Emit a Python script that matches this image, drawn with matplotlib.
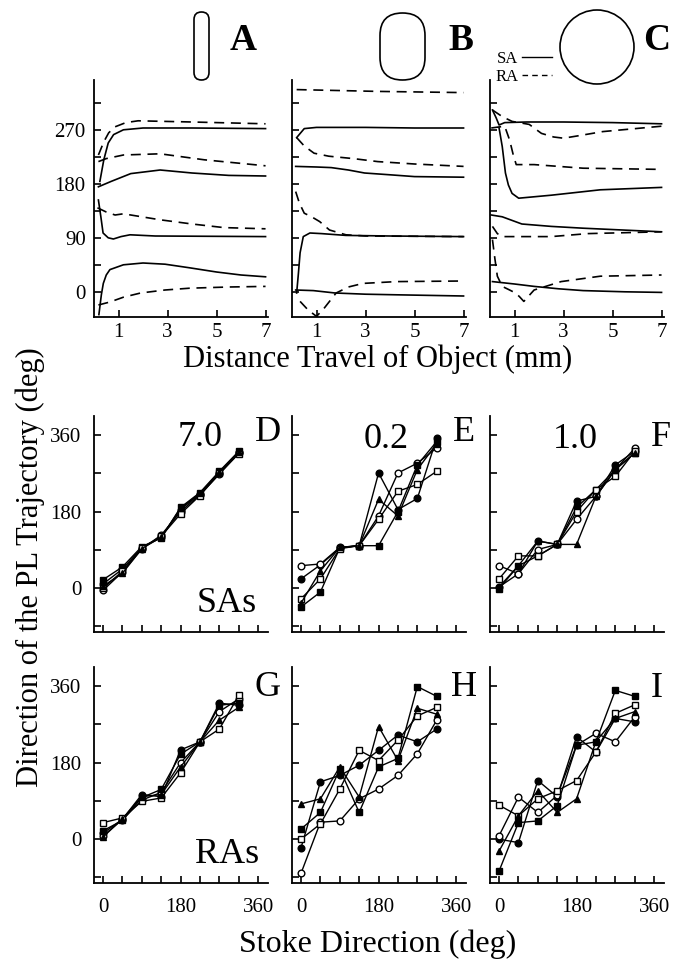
import matplotlib
matplotlib.use("Agg")
import matplotlib.pyplot as plt
from matplotlib.lines import Line2D
from matplotlib.patches import FancyBboxPatch, Circle
from matplotlib.ticker import FixedLocator

plt.rcParams['font.family'] = ['Liberation Serif', 'DejaVu Serif']

# ---- top row: PL direction vs distance travelled (x in mm, y in deg) ----
A_curves = [
    ('sa', [0.24, 0.4, 0.58, 0.8, 1.2, 2, 4, 7], [184, 220, 248, 262, 270, 273, 273, 272]),
    ('ra', [0.18, 0.4, 0.6, 0.86, 1.3, 1.8, 4, 7], [228, 250, 265, 275, 282, 285, 283, 280]),
    ('ra', [0.18, 0.5, 1.2, 2.7, 4.5, 7], [217, 222, 228, 230, 220, 210]),
    ('sa', [0.18, 0.7, 1.5, 2.7, 4, 5.5, 7], [175, 184, 197, 203, 198, 194, 193]),
    ('ra', [0.14, 0.5, 0.86, 1.2, 2.7, 4, 5.3, 7], [140, 133, 128, 130, 120, 113, 107, 105]),
    ('sa', [0.18, 0.28, 0.37, 0.58, 0.79, 1.1, 1.47, 2.5, 7], [153, 125, 98, 90, 88, 92, 95, 93, 92]),
    ('sa', [0.2, 0.3, 0.38, 0.5, 0.65, 1.2, 2.0, 2.9, 3.9, 5, 6, 7],
     [-38, -5, 14, 28, 37, 45, 48, 46, 40, 33, 28, 25]),
    ('ra', [0.18, 0.65, 1.2, 1.9, 2.9, 3.9, 5.5, 7], [-22, -17, -9, -2, 3, 6, 8, 9]),
]
B_curves = [
    ('ra', [0.19, 3.5, 7], [337, 334, 332]),
    ('sa', [0.19, 0.5, 1, 3, 5, 7], [257, 272, 274, 274, 273, 273]),
    ('ra', [0.19, 0.5, 0.9, 1.5, 2.5, 3.5, 5, 7], [257, 243, 231, 226, 222, 217, 213, 209]),
    ('sa', [0.15, 1.0, 1.6, 2.3, 2.96, 4, 5, 7], [209, 208, 207, 203, 198, 195, 192, 191]),
    ('ra', [0.15, 0.3, 0.5, 0.8, 1.13, 1.53, 2.2, 3, 7], [167, 148, 131, 125, 117, 103, 95, 93, 92]),
    ('sa', [0.19, 0.26, 0.33, 0.46, 0.73, 1.2, 2.2, 4, 7], [-2, 30, 65, 92, 98, 97, 94, 93, 92]),
    ('sa', [0.15, 0.87, 1.76, 3, 4.26, 7], [3, 2, -2, -4, -5, -7]),
    ('ra', [0.33, 0.65, 1.0, 1.3, 1.53, 1.8, 2.3, 2.9, 4.26, 7], [-16, -30, -41, -28, -16, -2, 8, 14, 17, 18]),
]
C_curves = [
    ('sa', [0.1, 0.25, 0.37, 0.6, 1.5, 3, 5, 7], [303, 290, 278, 282, 283, 283, 282, 280]),
    ('ra', [0.1, 0.5, 0.9, 1.6, 2.1, 2.6, 3.0, 3.6, 4.6, 7], [303, 292, 284, 279, 264, 258, 256, 260, 267, 276]),
    ('ra', [0.05, 0.6, 0.8, 0.95, 1.07, 1.8, 3.8, 7], [273, 276, 253, 228, 212, 212, 206, 204]),
    ('sa', [0.37, 0.5, 0.63, 0.75, 0.9, 1.17, 2.5, 4.5, 7], [273, 242, 198, 178, 164, 156, 161, 170, 174]),
    ('sa', [0.05, 0.5, 1.3, 2.5, 3.8, 7], [128, 125, 113, 109, 106, 100]),
    ('ra', [0.1, 0.3, 0.5, 1.5, 2.5, 4, 7], [109, 97, 92, 92, 92, 97, 100]),
    ('ra', [0.1, 0.2, 0.3, 0.5, 0.8, 1.04, 1.2, 1.38, 1.8, 2.9, 4.5, 7],
     [87, 55, 26, 9, 3, -2, -8, -16, 3, 17, 26, 28]),
    ('sa', [0.1, 1.0, 1.8, 2.8, 3.8, 5.5, 7], [17, 13, 9, 5, 2, 0, -1]),
]

# ---- lower rows: PL direction vs stroke direction ----
stroke_dir = [0, 45, 90, 135, 180, 225, 270, 315]
marker_styles = [('o', 'black'), ('o', 'white'), ('s', 'black'), ('s', 'white'), ('^', 'black')]

D_vals = [[10, 45, 95, 120, 185, 222, 272, 320],
          [-5, 38, 92, 125, 180, 220, 268, 318],
          [20, 50, 98, 118, 190, 225, 275, 322],
          [0, 40, 95, 122, 175, 218, 270, 316],
          [5, 35, 93, 120, 188, 223, 273, 320]]
E_vals = [[22, 55, 95, 100, 271, 185, 211, 353],
          [53, 57, 96, 100, 170, 271, 294, 330],
          [-44, -9, 95, 100, 100, 180, 290, 345],
          [-25, 22, 93, 100, 162, 228, 244, 275],
          [-35, 41, 96, 100, 209, 170, 279, 340]]
F_vals = [[3, 34, 111, 103, 205, 216, 290, 322],
          [53, 34, 91, 103, 162, 216, 279, 329],
          [-1, 53, 76, 103, 190, 232, 279, 318],
          [22, 76, 76, 103, 180, 232, 263, 322],
          [3, 53, 111, 103, 103, 216, 279, 318]]
G_vals = [[14, 47, 105, 100, 210, 229, 320, 315],
          [8, 46, 92, 110, 180, 229, 300, 330],
          [20, 44, 98, 117, 200, 229, 315, 320],
          [39, 50, 89, 97, 156, 229, 259, 338],
          [5, 48, 100, 105, 170, 229, 280, 310]]
H_vals = [[-20, 135, 150, 174, 209, 245, 229, 259],
          [-80, 40, 43, 95, 118, 150, 201, 280],
          [24, 63, 165, 63, 170, 190, 359, 336],
          [0, 36, 118, 209, 185, 233, 290, 310],
          [83, 95, 170, 99, 265, 185, 308, 294]]
I_vals = [[0, -8, 138, 100, 241, 205, 284, 276],
          [8, 99, 63, 103, 221, 249, 229, 288],
          [-75, 39, 43, 79, 221, 229, 350, 336],
          [80, 55, 95, 114, 138, 205, 296, 316],
          [-28, 55, 114, 63, 95, 230, 284, 300]]

W, H = 673, 963
fig = plt.figure(figsize=(W / 100, H / 100), dpi=100)

col_left = [94, 292, 490]
ax_w = 174


def frac_rect(left, top, bottom):
    return [left / W, 1 - bottom / H, ax_w / W, (bottom - top) / H]


def style_axes(ax, xpad=6, ypad=6):
    for s in ['top', 'right']:
        ax.spines[s].set_visible(False)
    for s in ['left', 'bottom']:
        ax.spines[s].set_linewidth(1.3)
    ax.tick_params(which='both', direction='in', length=5, width=1.2, labelsize=15)
    ax.tick_params(axis='x', pad=xpad)
    ax.tick_params(axis='y', pad=ypad)


# top row
for i, curves in enumerate([A_curves, B_curves, C_curves]):
    ax = fig.add_axes(frac_rect(col_left[i], 80, 317))
    for kind, xs, ys in curves:
        if kind == 'sa':
            ax.plot(xs, ys, color='black', lw=1.2)
        else:
            ax.plot(xs, ys, color='black', lw=1.2, ls=(0, (6, 4)))
    ax.set_xlim(0, 7.1)
    ax.set_ylim(-42, 353)
    ax.set_xticks([1, 3, 5, 7])
    ax.yaxis.set_major_locator(FixedLocator([0, 90, 180, 270]))
    ax.yaxis.set_minor_locator(FixedLocator([45, 135, 225, 315]))
    style_axes(ax, xpad=4, ypad=6)
    if i > 0:
        ax.set_yticklabels([])
    if i == 2:
        handles = [Line2D([], [], color='black', lw=1.0),
                   Line2D([], [], color='black', lw=1.0, ls=(0, (4, 3)))]
        ax.legend(handles, ['SA', 'RA'], markerfirst=False, frameon=False,
                  loc='lower left', bbox_to_anchor=(0.03, 0.98), fontsize=12,
                  handlelength=1.8, handletextpad=0.2, labelspacing=0.1,
                  borderpad=0, borderaxespad=0)

# middle and bottom rows
panels = [
    (D_vals, 0, 416, 632, 'D', '7.0', 'SAs', (0.61, 0.9), (1.0, 0.925)),
    (E_vals, 1, 416, 632, 'E', '0.2', None, (0.54, 0.89), (0.99, 0.925)),
    (F_vals, 2, 416, 632, 'F', '1.0', None, (0.49, 0.89), (0.98, 0.9)),
    (G_vals, 0, 667, 883, 'G', None, 'RAs', None, (1.0, 0.907)),
    (H_vals, 1, 667, 883, 'H', None, None, None, (0.99, 0.907)),
    (I_vals, 2, 667, 883, 'I', None, None, None, (0.96, 0.9)),
]
for vals, col, top, bottom, letter, num, group, num_pos, let_pos in panels:
    ax = fig.add_axes(frac_rect(col_left[col], top, bottom))
    for (mk, fc), ys in zip(marker_styles, vals):
        ax.plot(stroke_dir, ys, color='black', lw=1.0, marker=mk, ms=4.8,
                mfc=fc, mec='black', mew=1.0)
    ax.set_xlim(-21, 383)
    ax.set_ylim(-103, 405)
    ax.xaxis.set_major_locator(FixedLocator([0, 180, 360]))
    ax.xaxis.set_minor_locator(FixedLocator([45, 90, 135, 225, 270, 315]))
    ax.yaxis.set_major_locator(FixedLocator([0, 180, 360]))
    ax.yaxis.set_minor_locator(FixedLocator([-90, 90, 270]))
    style_axes(ax, xpad=11, ypad=9)
    if col > 0:
        ax.set_yticklabels([])
    if top < 500:
        ax.set_xticklabels([])
    ax.text(let_pos[0], let_pos[1], letter, transform=ax.transAxes, fontsize=26,
            ha='center', va='center')
    if num:
        ax.text(num_pos[0], num_pos[1], num, transform=ax.transAxes, fontsize=26,
                ha='center', va='center')
    if group:
        ax.text(0.765, 0.13, group, transform=ax.transAxes, fontsize=26,
                ha='center', va='center')

# overlay for object shapes and panel letters
ov = fig.add_axes([0, 0, 1, 1], facecolor='none')
ov.set_xlim(0, W)
ov.set_ylim(H, 0)
ov.axis('off')
ov.add_patch(FancyBboxPatch((194, 12), 15, 68, boxstyle='round,pad=0,rounding_size=7.5',
                            fc='white', ec='black', lw=1.2))
ov.add_patch(FancyBboxPatch((380, 13), 45, 67, boxstyle='round,pad=0,rounding_size=22.5',
                            fc='white', ec='black', lw=1.2))
ov.add_patch(Circle((597, 47), 37, fc='white', ec='black', lw=1.2))
for lx, lt in [(243, 'A'), (461, 'B'), (657, 'C')]:
    ov.text(lx, 40, lt, fontsize=27, fontweight='bold', ha='center', va='center')

fig.text(378 / W, 1 - 359 / H, 'Distance Travel of Object (mm)', fontsize=22,
         ha='center', va='center')
fig.text(378 / W, 1 - 944 / H, 'Stoke Direction (deg)', fontsize=23,
         ha='center', va='center')
fig.text(30 / W, 1 - 567 / H, 'Direction of the PL Trajectory (deg)', fontsize=22,
         rotation=90, ha='center', va='center')

fig.savefig('out.png', dpi=100)
